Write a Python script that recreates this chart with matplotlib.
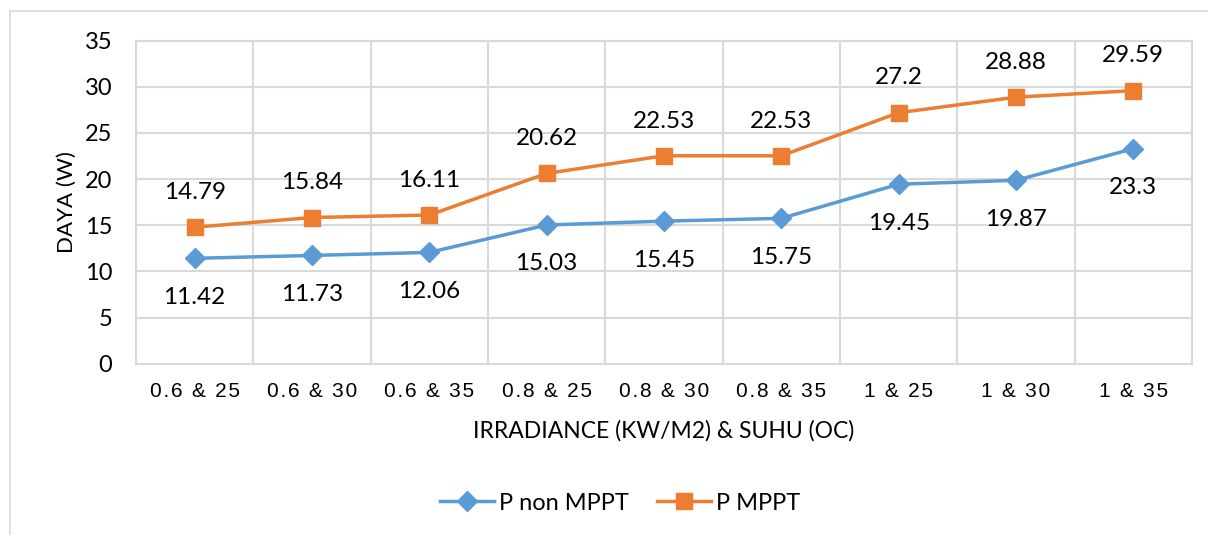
import numpy as np
import matplotlib.pyplot as plt
from matplotlib.lines import Line2D

# Data
categories = ['0.6 & 25', '0.6 & 30', '0.6 & 35', '0.8 & 25', '0.8 & 30',
              '0.8 & 35', '1 & 25', '1 & 30', '1 & 35']
p_non_mppt = [11.42, 11.73, 12.06, 15.03, 15.45, 15.75, 19.45, 19.87, 23.3]
p_mppt = [14.79, 15.84, 16.11, 20.62, 22.53, 22.53, 27.2, 28.88, 29.59]

blue = '#5B9BD5'
orange = '#ED7D31'
grid_c = '#D9D9D9'

plt.rcParams['font.family'] = ['Lato', 'DejaVu Sans']

fig = plt.figure(figsize=(12.08, 5.35), dpi=100)
ax = fig.add_axes([136 / 1208, 1 - 363.7 / 535, (1192 - 136) / 1208, (363.7 - 40.7) / 535])

x = np.arange(len(categories))
ax.plot(x, p_non_mppt, color=blue, lw=2.5, marker='D', ms=10, label='P non MPPT', zorder=3)
ax.plot(x, p_mppt, color=orange, lw=2.5, marker='s', ms=11.5, label='P MPPT', zorder=3)

# data labels: MPPT above, non MPPT below
for xi, v in zip(x, p_mppt):
    ax.annotate(f'{v:g}', (xi, v), xytext=(0, 25), textcoords='offset points',
                ha='center', va='center', fontsize=17.5)
for xi, v in zip(x, p_non_mppt):
    ax.annotate(f'{v:g}', (xi, v), xytext=(0, -28), textcoords='offset points',
                ha='center', va='center', fontsize=17.5)

ax.set_xlim(-0.5, len(categories) - 0.5)
ax.set_ylim(0, 35)
ax.set_yticks(np.arange(0, 36, 5))
ax.set_xticks(x)
spaced = ['\u200a'.join(list(c)) for c in categories]
ax.set_xticklabels(spaced, fontsize=15, family=['Liberation Sans', 'DejaVu Sans'])
ax.set_xticks(np.arange(-0.5, len(categories), 1), minor=True)
ax.tick_params(axis='both', which='both', length=0)
ax.tick_params(axis='x', pad=13)
ax.tick_params(axis='y', labelsize=17, pad=17)
ax.grid(True, axis='y', color=grid_c, lw=1.5)
ax.grid(True, axis='x', which='minor', color=grid_c, lw=1.5)
for s in ax.spines.values():
    s.set_color(grid_c)
    s.set_linewidth(1.5)

ax.set_xlabel('IRRADIANCE (KW/M2) & SUHU (OC)', fontsize=16.5, labelpad=14)
ax.set_ylabel('DAYA (W)', fontsize=16, labelpad=6)

ax.legend(loc='center', bbox_to_anchor=(620 / 1208, 1 - 503 / 535),
          bbox_transform=fig.transFigure, ncol=2, frameon=False, fontsize=17,
          handlelength=2.3, columnspacing=1.2, handletextpad=0.2)

# chart frame
fig.add_artist(Line2D([10 / 1208, 1.0], [1 - 11 / 535] * 2, color=grid_c, lw=1.2))
fig.add_artist(Line2D([10 / 1208] * 2, [0, 1 - 11 / 535], color=grid_c, lw=1.2))

fig.savefig('out.png', dpi=100)
